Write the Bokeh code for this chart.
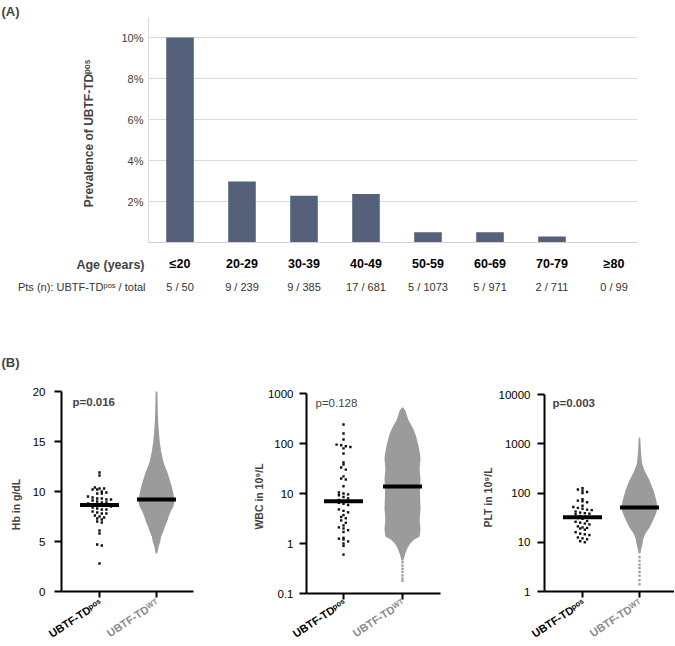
import math
import numpy as np
from bokeh.plotting import figure
from bokeh.models import (Range1d, FixedTicker, PrintfTickFormatter, Label, LabelSet,
                          ColumnDataSource, LinearAxis, LogAxis)
from bokeh.layouts import column, row
from bokeh.embed import file_html
from bokeh.resources import INLINE
from bokeh.core.properties import value

FONT = "Liberation Sans"

# ---------------- Panel A data ----------------
age_groups = ["≤20", "20-29", "30-39", "40-49", "50-59", "60-69", "70-79", "≥80"]
prevalence_pct = [10.0, 2.97, 2.28, 2.37, 0.50, 0.50, 0.29, 0.0]
pts_pos = [5, 9, 9, 17, 5, 5, 2, 0]
pts_total = [50, 239, 385, 681, 1073, 971, 711, 99]
prev_ticks = [2, 4, 6, 8, 10]

# ---------------- Panel B data ----------------
groups = ["UBTF-TDᵖᵒˢ", "UBTF-TDᵂᵀ"]

hb_pos = [11.9, 11.6, 10.4, 10.3, 10.3, 10.2, 10.2, 10.0, 9.9, 9.8, 9.8,
          9.5, 9.4, 9.3, 9.3, 9.2, 9.2, 9.1, 9.0, 8.9, 8.9,
          8.8, 8.7, 8.7, 8.6, 8.6, 8.5, 8.4, 8.3, 8.2, 8.2,
          8.0, 7.9, 7.8, 7.8, 7.6, 7.5, 7.4, 7.3, 7.2, 7.0, 6.9,
          6.1, 5.8, 4.7, 4.6, 2.8]
hb_medians = [8.65, 9.2]
hb_wt_levels = [20.0, 19.0, 18.0, 17.0, 16.0, 15.0, 14.0, 13.0, 12.5, 12.0, 11.5,
                11.0, 10.5, 10.0, 9.5, 9.0, 8.5, 8.0, 7.5, 7.0, 6.5, 6.0, 5.5,
                5.0, 4.5, 4.0, 3.8]
hb_wt_density = [0.05, 0.06, 0.07, 0.09, 0.13, 0.18, 0.26, 0.38, 0.47, 0.59, 0.68,
                 0.76, 0.85, 0.91, 0.97, 1.0, 0.94, 0.79, 0.68, 0.59, 0.47, 0.38,
                 0.26, 0.21, 0.12, 0.07, 0.035]
hb_wt_tail = []

wbc_pos = [240, 158, 120, 95, 92, 88, 85, 80, 63, 42, 38, 33, 30, 22, 20, 19, 14,
           10.5, 10, 9.6, 9.2, 8.5, 8.0, 7.4, 7.0, 6.8, 6.5, 6.2, 5.9,
           4.8, 4.5, 4.2, 3.7, 3.4, 3.2, 2.9, 2.6, 2.3, 2.1, 2.0, 1.85, 1.7,
           1.3, 1.25, 1.2, 1.1, 1.0, 0.9, 0.6]
wbc_medians = [7.0, 13.8]
wbc_wt_levels = [525, 450, 300, 200, 150, 100, 63, 50, 30, 20, 10, 5, 3, 2, 1.5,
                 1.35, 1.2, 1.0, 0.8, 0.63, 0.5, 0.45]
wbc_wt_density = [0.04, 0.16, 0.32, 0.59, 0.73, 0.86, 0.97, 1.0, 0.95, 1.0, 0.97,
                  1.0, 0.95, 1.0, 0.97, 0.92, 0.65, 0.43, 0.27, 0.16, 0.08, 0.04]
wbc_wt_tail = [0.42, 0.36, 0.31, 0.27, 0.23, 0.2, 0.18]

plt_pos = [125, 118, 112, 105, 100, 75, 70, 68, 65, 55, 52, 50, 48, 46, 45,
           42, 40, 39, 38, 37, 34, 33, 32, 31, 30, 27, 26, 25, 24, 23,
           21, 20, 19.5, 19, 18, 16, 15, 14.5, 14, 12.5, 12, 11.5, 10.5, 10]
plt_medians = [32, 51]
plt_wt_levels = [1340, 1000, 700, 400, 285, 180, 112, 70, 50, 40, 32, 25, 20, 15,
                 12, 9.4, 7, 6]
plt_wt_density = [0.04, 0.06, 0.08, 0.14, 0.28, 0.56, 0.78, 0.94, 1.0, 0.94, 0.83,
                  0.69, 0.56, 0.33, 0.22, 0.17, 0.08, 0.06]
plt_wt_tail = [5.0, 4.2, 3.5, 3.0, 2.5, 2.1, 1.7, 1.4]

BAR = "#55617b"
GRAY = "#9b9b9b"
GRAY_TXT = "#8a8a8a"
DOT = "#111111"
GRID = "#dadada"

TOTAL_W = 674
A_H = 338
B_H = 307


def bare_figure(width, height, xr, yr, y_type="linear"):
    p = figure(width=width, height=height, x_range=xr, y_range=yr, y_axis_type=y_type,
               x_axis_location=None, y_axis_location=None,
               output_backend="svg", toolbar_location=None,
               min_border=0, min_border_left=0, min_border_right=0,
               min_border_top=0, min_border_bottom=0)
    p.outline_line_color = None
    p.grid.visible = False
    return p


# ---------------- Panel A ----------------
X0A, KXA = 179.5, 62.0      # pixel of first category, pixels per category
Y0A, KYA = 242.0, 20.5      # pixel of 0 %, pixels per percent


def ax_(sx):
    return (sx - X0A) / KXA


def ay_(sy):
    return (Y0A - sy) / KYA


idx = list(range(len(age_groups)))
pA = bare_figure(TOTAL_W, A_H, Range1d(ax_(0), ax_(TOTAL_W)), Range1d(ay_(A_H), ay_(0)))
a_left, a_right, a_top = ax_(148), ax_(637), ay_(16.7)

pA.segment(x0=a_left, x1=a_right, y0=prev_ticks, y1=prev_ticks, line_color=GRID,
           line_width=1)
pA.vbar(x=idx, top=prevalence_pct, width=0.445, fill_color=BAR, line_color=None)

ya = LinearAxis(fixed_location=a_left, bounds=(0, a_top))
ya.ticker = FixedTicker(ticks=prev_ticks, minor_ticks=[])
ya.formatter = PrintfTickFormatter(format="%d%%")
ya.major_tick_out = 0
ya.major_tick_in = 0
ya.major_tick_line_color = None
ya.minor_tick_line_color = None
ya.axis_line_color = GRID
ya.major_label_standoff = 5
ya.major_label_text_font = FONT
ya.major_label_text_font_size = "11px"
ya.major_label_text_color = "#404040"
pA.add_layout(ya, "left")

xa = LinearAxis(fixed_location=0, bounds=(a_left, a_right))
xa.ticker = FixedTicker(ticks=idx, minor_ticks=[])
xa.major_label_overrides = {i: g for i, g in enumerate(age_groups)}
xa.major_label_text_font = FONT
xa.major_label_text_font_style = "bold"
xa.major_label_text_font_size = "12.5px"
xa.major_label_text_color = "black"
xa.major_tick_out = 0
xa.major_tick_in = 0
xa.major_tick_line_color = None
xa.minor_tick_line_color = None
xa.axis_line_color = "#d3d3d3"
xa.major_label_standoff = 14
pA.add_layout(xa, "below")

pA.add_layout(Label(x=ax_(88), y=ay_(133), text="Prevalence of UBTF-TDᵖᵒˢ",
                    angle=math.pi / 2, text_align="center", text_baseline="middle",
                    text_font=FONT, text_font_style="bold", text_font_size="12px"))
pA.add_layout(Label(x=ax_(1), y=ay_(3), text="(A)", text_font=FONT,
                    text_font_style="bold", text_font_size="13px",
                    text_baseline="top", text_align="left"))
pA.add_layout(Label(x=ax_(144), y=ay_(264), text="Age (years)", text_font=FONT,
                    text_font_style="bold", text_font_size="12.5px",
                    text_baseline="middle", text_align="right"))
pA.add_layout(Label(x=ax_(145), y=ay_(286), text="Pts (n): UBTF-TDᵖᵒˢ / total",
                    text_font=FONT, text_font_size="11px", text_color="#333333",
                    text_baseline="middle", text_align="right"))
pts_src = ColumnDataSource(dict(x=idx, txt=[f"{a} / {b}" for a, b in zip(pts_pos, pts_total)]))
pA.add_layout(LabelSet(x="x", y=ay_(286), text="txt", source=pts_src,
                       text_align="center", text_baseline="middle",
                       text_font=value(FONT), text_font_size=value("11px"),
                       text_color="#333333"))


# ---------------- Panel B ----------------
def swarm(vals, px_fn, px_per_unit, row_px=3.6, dot_px=4.6):
    vals = np.asarray(vals, float)
    rows = np.round(px_fn(vals) / row_px).astype(int)
    offs = np.zeros(len(vals))
    for r in np.unique(rows):
        ii = np.where(rows == r)[0]
        k = len(ii)
        offs[ii] = (np.arange(k) - (k - 1) / 2.0) * dot_px / px_per_unit
    return offs


def panel(ox, width, X0, kx, y_type, Y0, ky, y_lo, y_hi, yticks, axis_px, end_px,
          ytitle, title_xy, lab_stand, pos_vals, medians, wt_levels, wt_density,
          wt_tail, ptext, pbold, p_xy, show_B=False):
    oy = A_H

    def bx(sx):
        return (sx - X0) / kx

    if y_type == "log":
        def by(sy):
            return 10 ** ((Y0 - sy) / ky)

        def px_fn(v):
            return np.log10(v) * ky
    else:
        def by(sy):
            return (Y0 - sy) / ky

        def px_fn(v):
            return np.asarray(v) * ky

    p = bare_figure(width, B_H, Range1d(bx(ox), bx(ox + width)),
                    Range1d(by(oy + B_H), by(oy)), y_type)
    x_left, x_right = bx(axis_px), bx(end_px)

    maxhw = 18.0 / kx
    dens = np.asarray(wt_density)
    p.harea(y=wt_levels, x1=1 - dens * maxhw, x2=1 + dens * maxhw,
            fill_color=GRAY, fill_alpha=1.0)
    if wt_tail:
        p.scatter(x=[1] * len(wt_tail), y=wt_tail, marker="square", size=2.3,
                  fill_color=GRAY, line_color=None)

    offs = swarm(pos_vals, px_fn, kx)
    p.scatter(x=0 + offs, y=pos_vals, marker="square", size=2.4, fill_color=DOT,
              line_color=None)

    half = 19.5 / kx
    p.segment(x0=[i - half for i in range(2)], x1=[i + half for i in range(2)],
              y0=medians, y1=medians, line_width=4, line_color="black")

    AxisCls = LogAxis if y_type == "log" else LinearAxis
    yx = AxisCls(fixed_location=x_left, bounds=(y_lo, y_hi))
    yx.ticker = FixedTicker(ticks=yticks, minor_ticks=[])
    yx.formatter = PrintfTickFormatter(format="%g")
    yx.axis_line_width = 2
    yx.major_tick_line_width = 2
    yx.major_tick_out = 7
    yx.major_tick_in = 0
    yx.minor_tick_line_color = None
    yx.major_label_standoff = lab_stand
    yx.major_label_text_font = FONT
    yx.major_label_text_font_size = "11.5px"
    yx.major_label_text_color = "black"
    p.add_layout(yx, "left")

    xx = LinearAxis(fixed_location=y_lo, bounds=(x_left, x_right))
    xx.ticker = FixedTicker(ticks=[0, 1], minor_ticks=[])
    xx.major_label_overrides = {0: "", 1: ""}
    xx.axis_line_width = 2
    xx.major_tick_line_width = 2
    xx.major_tick_out = 6
    xx.major_tick_in = 0
    xx.minor_tick_line_color = None
    p.add_layout(xx, "below")

    colors = ["black", GRAY_TXT]
    for i, g in enumerate(groups):
        p.add_layout(Label(x=i, y=by(601), x_offset=1, text=g,
                           angle=0.58, text_align="right", text_baseline="middle",
                           text_font=FONT, text_font_style="bold", text_font_size="11px",
                           text_color=colors[i]))
    p.add_layout(Label(x=bx(title_xy[0]), y=by(title_xy[1]), text=ytitle,
                       angle=math.pi / 2, text_align="center", text_baseline="middle",
                       text_font=FONT, text_font_style="bold", text_font_size="10.5px"))
    p.add_layout(Label(x=bx(p_xy[0]), y=by(p_xy[1]), text=ptext,
                       text_font=FONT, text_font_style="bold" if pbold else "normal",
                       text_font_size="11.5px", text_baseline="middle", text_align="left"))
    if show_B:
        p.add_layout(Label(x=bx(1), y=by(354), text="(B)", text_font=FONT,
                           text_font_style="bold", text_font_size="13px",
                           text_baseline="top", text_align="left"))
    return p


p1 = panel(0, 240, 99, 57.0, "linear", 591, 10.0, 0, 20, [0, 5, 10, 15, 20], 61, 193,
           "Hb in g/dL", (15, 504), 9, hb_pos, hb_medians, hb_wt_levels, hb_wt_density,
           hb_wt_tail, "p=0.016", True, (72, 401), show_B=True)
p2 = panel(240, 238, 343, 59.0, "log", 543, 50.0, 0.1, 1000, [0.1, 1, 10, 100, 1000],
           306, 440, "WBC in 10⁹/L", (258, 496), 6, wbc_pos, wbc_medians,
           wbc_wt_levels, wbc_wt_density, wbc_wt_tail, "p=0.128", False, (315, 402))
p3 = panel(478, TOTAL_W - 478, 582, 57.0, "log", 591, 49.25, 1, 10000,
           [1, 10, 100, 1000, 10000], 544, TOTAL_W, "PLT in 10⁹/L", (487, 497), 7,
           plt_pos, plt_medians, plt_wt_levels, plt_wt_density, plt_wt_tail,
           "p=0.003", True, (552, 402))

layout = column(pA, row(p1, p2, p3))
open("out.html", "w").write(file_html(layout, INLINE))
